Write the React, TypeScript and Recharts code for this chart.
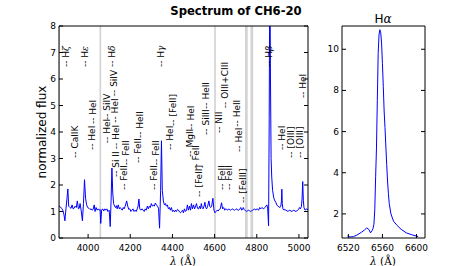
import React from "react";
import { ComposedChart, LineChart, Line, Scatter, XAxis, YAxis, ReferenceArea } from "recharts";

const FONT = "'DejaVu Sans', sans-serif";
const SERIF = "'DejaVu Serif', serif";

// blue-region spectrum, wavelength (A) and normalized flux
const specWave = [
  3862, 3868, 3874, 3880, 3885, 3890, 3895, 3900, 3904, 3908, 3914, 3919, 3924, 3929, 3933, 3938,
  3944, 3949, 3954, 3958, 3962, 3967, 3973, 3978, 3983, 3988, 3993, 3998, 4004, 4009, 4014, 4019,
  4024, 4029, 4033, 4038, 4043, 4048, 4053, 4057, 4060, 4064, 4069, 4074, 4079, 4084, 4089, 4094,
  4100, 4105, 4109, 4113, 4117, 4121, 4126, 4130, 4134, 4138, 4143, 4148, 4152, 4157, 4162, 4167,
  4171, 4176, 4183, 4188, 4193, 4198, 4203, 4208, 4213, 4218, 4223, 4228, 4233, 4237, 4241, 4245,
  4250, 4256, 4261, 4266, 4271, 4276, 4281, 4286, 4290, 4295, 4300, 4305, 4310, 4314, 4319, 4324,
  4329, 4334, 4339, 4344, 4348, 4352, 4357, 4362, 4367, 4371, 4376, 4381, 4386, 4390, 4395, 4400,
  4405, 4410, 4414, 4419, 4424, 4429, 4434, 4438, 4443, 4448, 4452, 4457, 4462, 4467, 4471, 4476,
  4481, 4486, 4490, 4495, 4500, 4505, 4510, 4514, 4519, 4524, 4529, 4533, 4537, 4541, 4545, 4550,
  4554, 4558, 4562, 4567, 4573, 4577, 4581, 4586, 4592, 4597, 4602, 4607, 4612, 4617, 4622, 4627,
  4633, 4638, 4643, 4648, 4652, 4657, 4662, 4667, 4672, 4676, 4681, 4686, 4690, 4695, 4700, 4705,
  4710, 4714, 4719, 4724, 4729, 4733, 4736, 4740, 4743, 4748, 4752, 4757, 4762, 4767, 4771, 4776,
  4781, 4786, 4790, 4795, 4800, 4805, 4809, 4814, 4819, 4824, 4829, 4833, 4838, 4843, 4848, 4852,
  4856, 4859, 4862, 4865, 4868, 4871, 4875, 4881, 4886, 4890, 4895, 4900, 4905, 4910, 4914, 4917,
  4919, 4921, 4924, 4929, 4933, 4938, 4943, 4948, 4952, 4957, 4962, 4967, 4971, 4976, 4981, 4986,
  4990, 4995, 4999, 5002, 5007, 5012, 5015, 5018, 5021, 5024, 5029, 5033, 5038, 5043,
];
const specFlux = [
  1.2, 1.18, 1.12, 1.05, 0.9, 0.65, 1.1, 1.5, 1.85, 1.2, 1.15, 1.12, 1.25, 1.1, 1.12, 1.2,
  1.15, 1.4, 1.1, 1.12, 1.3, 1.05, 0.65, 1.3, 2.2, 1.5, 1.25, 1.15, 1.12, 1.08, 1.1, 1.05,
  1.08, 1.25, 1.0, 1.15, 1.05, 1.1, 1.05, 1.08, 0.55, 1.05, 1.1, 1.02, 1.1, 1.05, 1.1, 1.0,
  1.05, 0.43, 1.4, 2.64, 1.7, 1.3, 1.2, 1.15, 1.22, 1.1, 1.25, 1.1, 1.15, 1.1, 1.05, 1.15,
  1.1, 1.2, 1.4, 1.2, 1.08, 1.1, 1.0, 1.05, 1.1, 1.0, 1.05, 1.0, 1.1, 1.2, 1.47, 1.1,
  1.05, 1.1, 1.05, 1.0, 1.1, 1.05, 1.2, 1.1, 1.2, 1.15, 1.3, 1.2, 1.25, 1.2, 1.32, 1.25,
  1.2, 1.12, 0.37, 1.8, 3.67, 1.8, 1.4, 1.25, 1.3, 1.2, 1.25, 1.1, 1.15, 1.05, 1.15, 1.0,
  1.05, 0.98, 1.05, 1.0, 1.08, 1.05, 0.98, 0.95, 1.0, 1.05, 0.95, 1.1, 1.0, 1.05, 1.25, 1.05,
  1.2, 1.05, 1.3, 1.1, 1.25, 1.1, 1.2, 1.3, 1.12, 1.1, 1.2, 1.1, 1.3, 1.15, 1.1, 1.2,
  1.35, 1.15, 1.1, 1.2, 1.4, 1.2, 1.15, 1.2, 1.5, 1.05, 0.95, 1.0, 1.05, 1.02, 1.08, 1.1,
  1.33, 1.1, 1.15, 1.05, 1.1, 1.08, 1.05, 1.1, 1.06, 1.05, 1.08, 1.1, 1.06, 1.05, 1.08, 1.1,
  1.05, 1.05, 1.08, 1.15, 1.05, 1.08, 1.15, 1.08, 1.05, 1.03, 1.0, 1.03, 1.05, 1.02, 1.0, 1.03,
  1.05, 1.08, 1.1, 1.05, 1.1, 1.08, 1.05, 1.15, 1.1, 1.15, 1.12, 1.1, 1.15, 1.2, 1.25, 1.1,
  0.46, 4.5, 11, 6, 3.0, 2.3, 1.8, 1.5, 1.4, 1.35, 1.25, 1.2, 1.18, 1.15, 1.2, 1.4,
  1.84, 1.3, 1.1, 1.05, 1.08, 1.05, 1.03, 1.0, 1.03, 1.05, 1.02, 1.0, 1.03, 1.05, 1.02, 1.0,
  1.03, 1.05, 1.08, 1.15, 1.1, 1.2, 1.5, 2.13, 1.4, 1.15, 1.05, 1.08, 1.1, 1.05,
];

// H-alpha profile
const haWave = [
  6519, 6522, 6526, 6530, 6535, 6539, 6541.5, 6544, 6546, 6548, 6549, 6550, 6551, 6552, 6553,
  6554, 6555, 6556, 6557, 6558, 6559, 6560, 6561, 6562, 6563, 6564, 6565, 6566, 6567, 6568,
  6570, 6573, 6577, 6582, 6588, 6595, 6602,
];
const haFlux = [
  0.92, 0.88, 0.9, 0.97, 1.1, 1.22, 1.32, 1.25, 1.08, 1.2, 1.3, 1.5, 2.2, 3.8, 5.2,
  7.5, 9.8, 10.7, 10.95, 10.8, 10.3, 9.3, 8.2, 7.0, 6.2, 5.3, 4.4, 3.6, 3.0, 2.5,
  2.0, 1.65, 1.45, 1.25, 1.08, 0.98, 0.9,
];

// line identifications: wavelength, height of label start, name
const idWave = [
  3895, 3938, 3986, 4019, 4024, 4090, 4090, 4114, 4124, 4127, 4131, 4133, 4171, 4181, 4238, 4248,
  4314, 4324, 4348, 4390, 4405, 4481, 4486, 4510, 4524, 4557, 4557, 4619, 4633, 4667, 4648, 4705,
  4714, 4733, 4857, 4919, 4962, 5005, 5019,
];
const idLevel = [
  6.45, 3.02, 6.45, 3.32, 4.3, 3.58, 4.45, 6.45, 5.35, 4.35, 3.35, 2.3, 1.81, 2.75, 2.83, 3.77,
  1.81, 2.75, 6.45, 3.32, 4.23, 3.06, 4.08, 2.57, 1.55, 3.89, 4.87, 3.96, 1.81, 1.81, 4.9, 4.2,
  3.25, 1.32, 6.45, 3.32, 3.02, 3.02, 5.28,
];
const idName = [
  "Hζ", "CaIIK", "Hε", "HeI", "HeI", "HeI", "SiIV", "Hδ", "SiIV", "HeI", "HeI", "Si II", "FeII", "FeII", "FeII", "HeII",
  "FeII", "FeII", "Hγ", "HeI", "[FeII]", "MgII", "HeI", "FeII", "[FeII]", "SiIII", "HeII", "NII", "FeII", "FeII", "OIII+CIII", "HeII",
  "HeI", "[FeIII]", "Hβ", "HeI", "[OIII]", "[OIII]", "HeI",
];

// masked regions
const maskFrom = [3862, 4054, 4598, 4744, 4770];
const maskTo = [3866, 4062, 4606, 4757, 4783];

const mainXTicks = [4000, 4200, 4400, 4600, 4800, 5000];
const mainYTicks = [0, 1, 2, 3, 4, 5, 6, 7, 8];
const haXTicks = [6520, 6560, 6600];
const haYTicks = [2, 4, 6, 8, 10];

const spec = specWave.map((w, i) => ({ wave: w, flux: specFlux[i] }));
const ha = haWave.map((w, i) => ({ wave: w, flux: haFlux[i] }));
const ids = idWave.map((w, i) => ({ wave: w, level: idLevel[i], name: idName[i] }));

const TL = 4;

const greek = (s: string) => {
  const m = s.match(/^H([α-ω])$/);
  if (!m) return s;
  return (
    <>
      H<tspan fontStyle="italic" fontFamily={SERIF}>{m[1]}</tspan>
    </>
  );
};

const LeftTick = (p: any) => (
  <g>
    <line x1={p.x} y1={p.y} x2={p.x + TL} y2={p.y} stroke="#000" />
    <text x={p.x - 3} y={p.y} textAnchor="end" dominantBaseline="central" fontSize={9} fontFamily={FONT} fill="#000">
      {p.payload.value}
    </text>
  </g>
);
const RightTick = (p: any) => <line x1={p.x} y1={p.y} x2={p.x - TL} y2={p.y} stroke="#000" />;
const BottomTick = (p: any) => (
  <g>
    <line x1={p.x} y1={p.y} x2={p.x} y2={p.y - TL} stroke="#000" />
    <text x={p.x} y={p.y + 13} textAnchor="middle" fontSize={9} fontFamily={FONT} fill="#000">
      {p.payload.value}
    </text>
  </g>
);
const TopTick = (p: any) => <line x1={p.x} y1={p.y} x2={p.x} y2={p.y + TL} stroke="#000" />;

const IdLabel = (p: any) => {
  const { cx, cy, payload } = p;
  return (
    <text
      x={cx}
      y={cy}
      transform={`rotate(-90 ${cx} ${cy})`}
      dominantBaseline="central"
      fontSize={9}
      fontFamily={FONT}
      fill="#000"
    >
      -- {greek(payload.name)}
    </text>
  );
};

const axisLine = { stroke: "#000", strokeWidth: 1 };

const App = () => {
  return (
    <div style={{ position: "absolute", left: 0, top: 0, width: 472, height: 266, background: "#fff" }}>
      <div style={{ position: "absolute", left: 0, top: 0 }}>
        <ComposedChart width={320} height={266} margin={{ top: 25, right: 10, bottom: 0, left: 0 }}>
          <XAxis
            dataKey="wave"
            type="number"
            domain={[3862, 5043]}
            allowDataOverflow
            ticks={mainXTicks}
            interval={0}
            height={28}
            tickSize={0}
            tickMargin={0}
            tick={BottomTick}
            axisLine={axisLine}
          />
          <XAxis
            xAxisId="top"
            orientation="top"
            type="number"
            domain={[3862, 5043]}
            allowDataOverflow
            ticks={mainXTicks}
            interval={0}
            height={1}
            tickSize={0}
            tickMargin={0}
            tick={TopTick}
            axisLine={axisLine}
          />
          <YAxis
            type="number"
            domain={[0, 8]}
            allowDataOverflow
            ticks={mainYTicks}
            interval={0}
            width={59}
            tickSize={0}
            tickMargin={0}
            tick={LeftTick}
            axisLine={axisLine}
          />
          <YAxis
            yAxisId="right"
            orientation="right"
            type="number"
            domain={[0, 8]}
            allowDataOverflow
            ticks={mainYTicks}
            interval={0}
            width={2}
            tickSize={0}
            tickMargin={0}
            tick={RightTick}
            axisLine={axisLine}
          />
          {maskFrom.map((a, i) => (
            <ReferenceArea key={i} x1={a} x2={maskTo[i]} y1={0} y2={8} fill="#d3d3d3" fillOpacity={1} stroke="none" />
          ))}
          <Scatter data={ids} dataKey="level" shape={IdLabel} isAnimationActive={false} />
          <Line data={spec} dataKey="flux" stroke="#0000ff" strokeWidth={1} dot={false} isAnimationActive={false} />
        </ComposedChart>
      </div>
      <div style={{ position: "absolute", left: 320, top: 0 }}>
        <LineChart width={130} height={266} margin={{ top: 25, right: 23, bottom: 0, left: 0 }}>
          <XAxis
            dataKey="wave"
            type="number"
            domain={[6512.5, 6610]}
            allowDataOverflow
            ticks={haXTicks}
            interval={0}
            height={28}
            tickSize={0}
            tickMargin={0}
            tick={BottomTick}
            axisLine={axisLine}
          />
          <XAxis
            xAxisId="top"
            orientation="top"
            type="number"
            domain={[6512.5, 6610]}
            allowDataOverflow
            ticks={haXTicks}
            interval={0}
            height={1}
            tickSize={0}
            tickMargin={0}
            tick={TopTick}
            axisLine={axisLine}
          />
          <YAxis
            type="number"
            domain={[0.83, 11.13]}
            allowDataOverflow
            ticks={haYTicks}
            interval={0}
            width={22}
            tickSize={0}
            tickMargin={0}
            tick={LeftTick}
            axisLine={axisLine}
          />
          <YAxis
            yAxisId="right"
            orientation="right"
            type="number"
            domain={[0.83, 11.13]}
            allowDataOverflow
            ticks={haYTicks}
            interval={0}
            width={2}
            tickSize={0}
            tickMargin={0}
            tick={RightTick}
            axisLine={axisLine}
          />
          <Line data={ha} dataKey="flux" stroke="#0000ff" strokeWidth={1} dot={false} isAnimationActive={false} />
        </LineChart>
      </div>
      <svg width={472} height={266} style={{ position: "absolute", left: 0, top: 0, pointerEvents: "none" }}>
        <text x={236} y={15} textAnchor="middle" fontSize={11.6} fontWeight="bold" fontFamily={FONT} fill="#000">
          Spectrum of CH6-20
        </text>
        <text
          x={42}
          y={132}
          transform="rotate(-90 42 132)"
          textAnchor="middle"
          dominantBaseline="central"
          fontSize={12}
          fontFamily={FONT}
          fill="#000"
        >
          normalized flux
        </text>
        <text x={183} y={264.5} textAnchor="middle" fontSize={10.5} fontFamily={SERIF} fill="#000">
          <tspan fontStyle="italic">λ</tspan> (Å)
        </text>
        <text x={383} y={22.5} textAnchor="middle" fontSize={12} fontFamily={FONT} fill="#000">
          H<tspan fontStyle="italic" fontFamily={SERIF}>α</tspan>
        </text>
        <text x={383} y={264.5} textAnchor="middle" fontSize={10.5} fontFamily={SERIF} fill="#000">
          <tspan fontStyle="italic">λ</tspan> (Å)
        </text>
      </svg>
    </div>
  );
};

export default App;
